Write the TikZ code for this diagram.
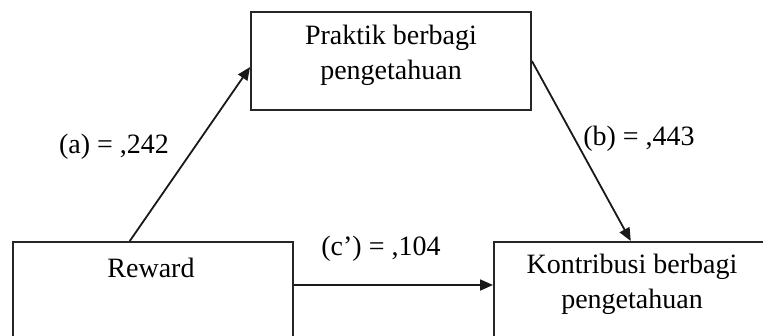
\documentclass[tikz,border=0pt]{standalone}
\usepackage{fontspec}
\setmainfont{Liberation Serif}
\usetikzlibrary{arrows.meta,calc}
\begin{document}
\begin{tikzpicture}[x=1pt,y=-1pt,
  box/.style={draw=black!85,line width=1.8pt,rectangle,inner sep=0pt},
  txt/.style={inner sep=0pt,font=\fontsize{28}{35}\selectfont,align=center},
  lbl/.style={inner sep=0pt,font=\fontsize{28}{35}\selectfont},
  arr/.style={line width=1.8pt,draw=black!90,-{Triangle[length=13pt,width=11pt]}}]
\useasboundingbox (0,0) rectangle (763,335);
\clip (0,0) rectangle (763,335);
\fill[white] (0,0) rectangle (763,335);
% boxes
\node[box,minimum width=280pt,minimum height=98pt] (prak) at (391,61) {};
\node[box,minimum width=280pt,minimum height=130pt,anchor=north west] (reward) at (12,241) {};
\node[box,minimum width=300pt,minimum height=130pt,anchor=north west] (kontrib) at (493,241) {};
% texts
\node[txt] (praktxt) at (391,55) {Praktik berbagi\\pengetahuan};
\node[txt] (rewtxt) at (151,268) {Reward};
\node[txt] (kontxt) at (632,284) {Kontribusi berbagi\\pengetahuan};
% arrows
\coordinate (aS) at ($(reward.north west)!0.418!(reward.north east)$);
\coordinate (aE) at ($(prak.north west)!0.56!(prak.south west)$);
\draw[arr] (aS) -- (aE);
\coordinate (bE) at ($(kontrib.north west)!0.4565!(kontrib.north east)$);
\draw[arr] (prak.east) -- (bE);
\coordinate (cS) at ($(reward.north east)+(0,44)$);
\draw[arr] (cS) -- (cS -| kontrib.west);
% labels
\node[lbl] (la) at (114,147) {(a) = ,242};
\node[lbl] (lb) at (639,139) {(b) = ,443};
\node[lbl] (lc) at (381,249) {(c’) = ,104};
\end{tikzpicture}
\end{document}
